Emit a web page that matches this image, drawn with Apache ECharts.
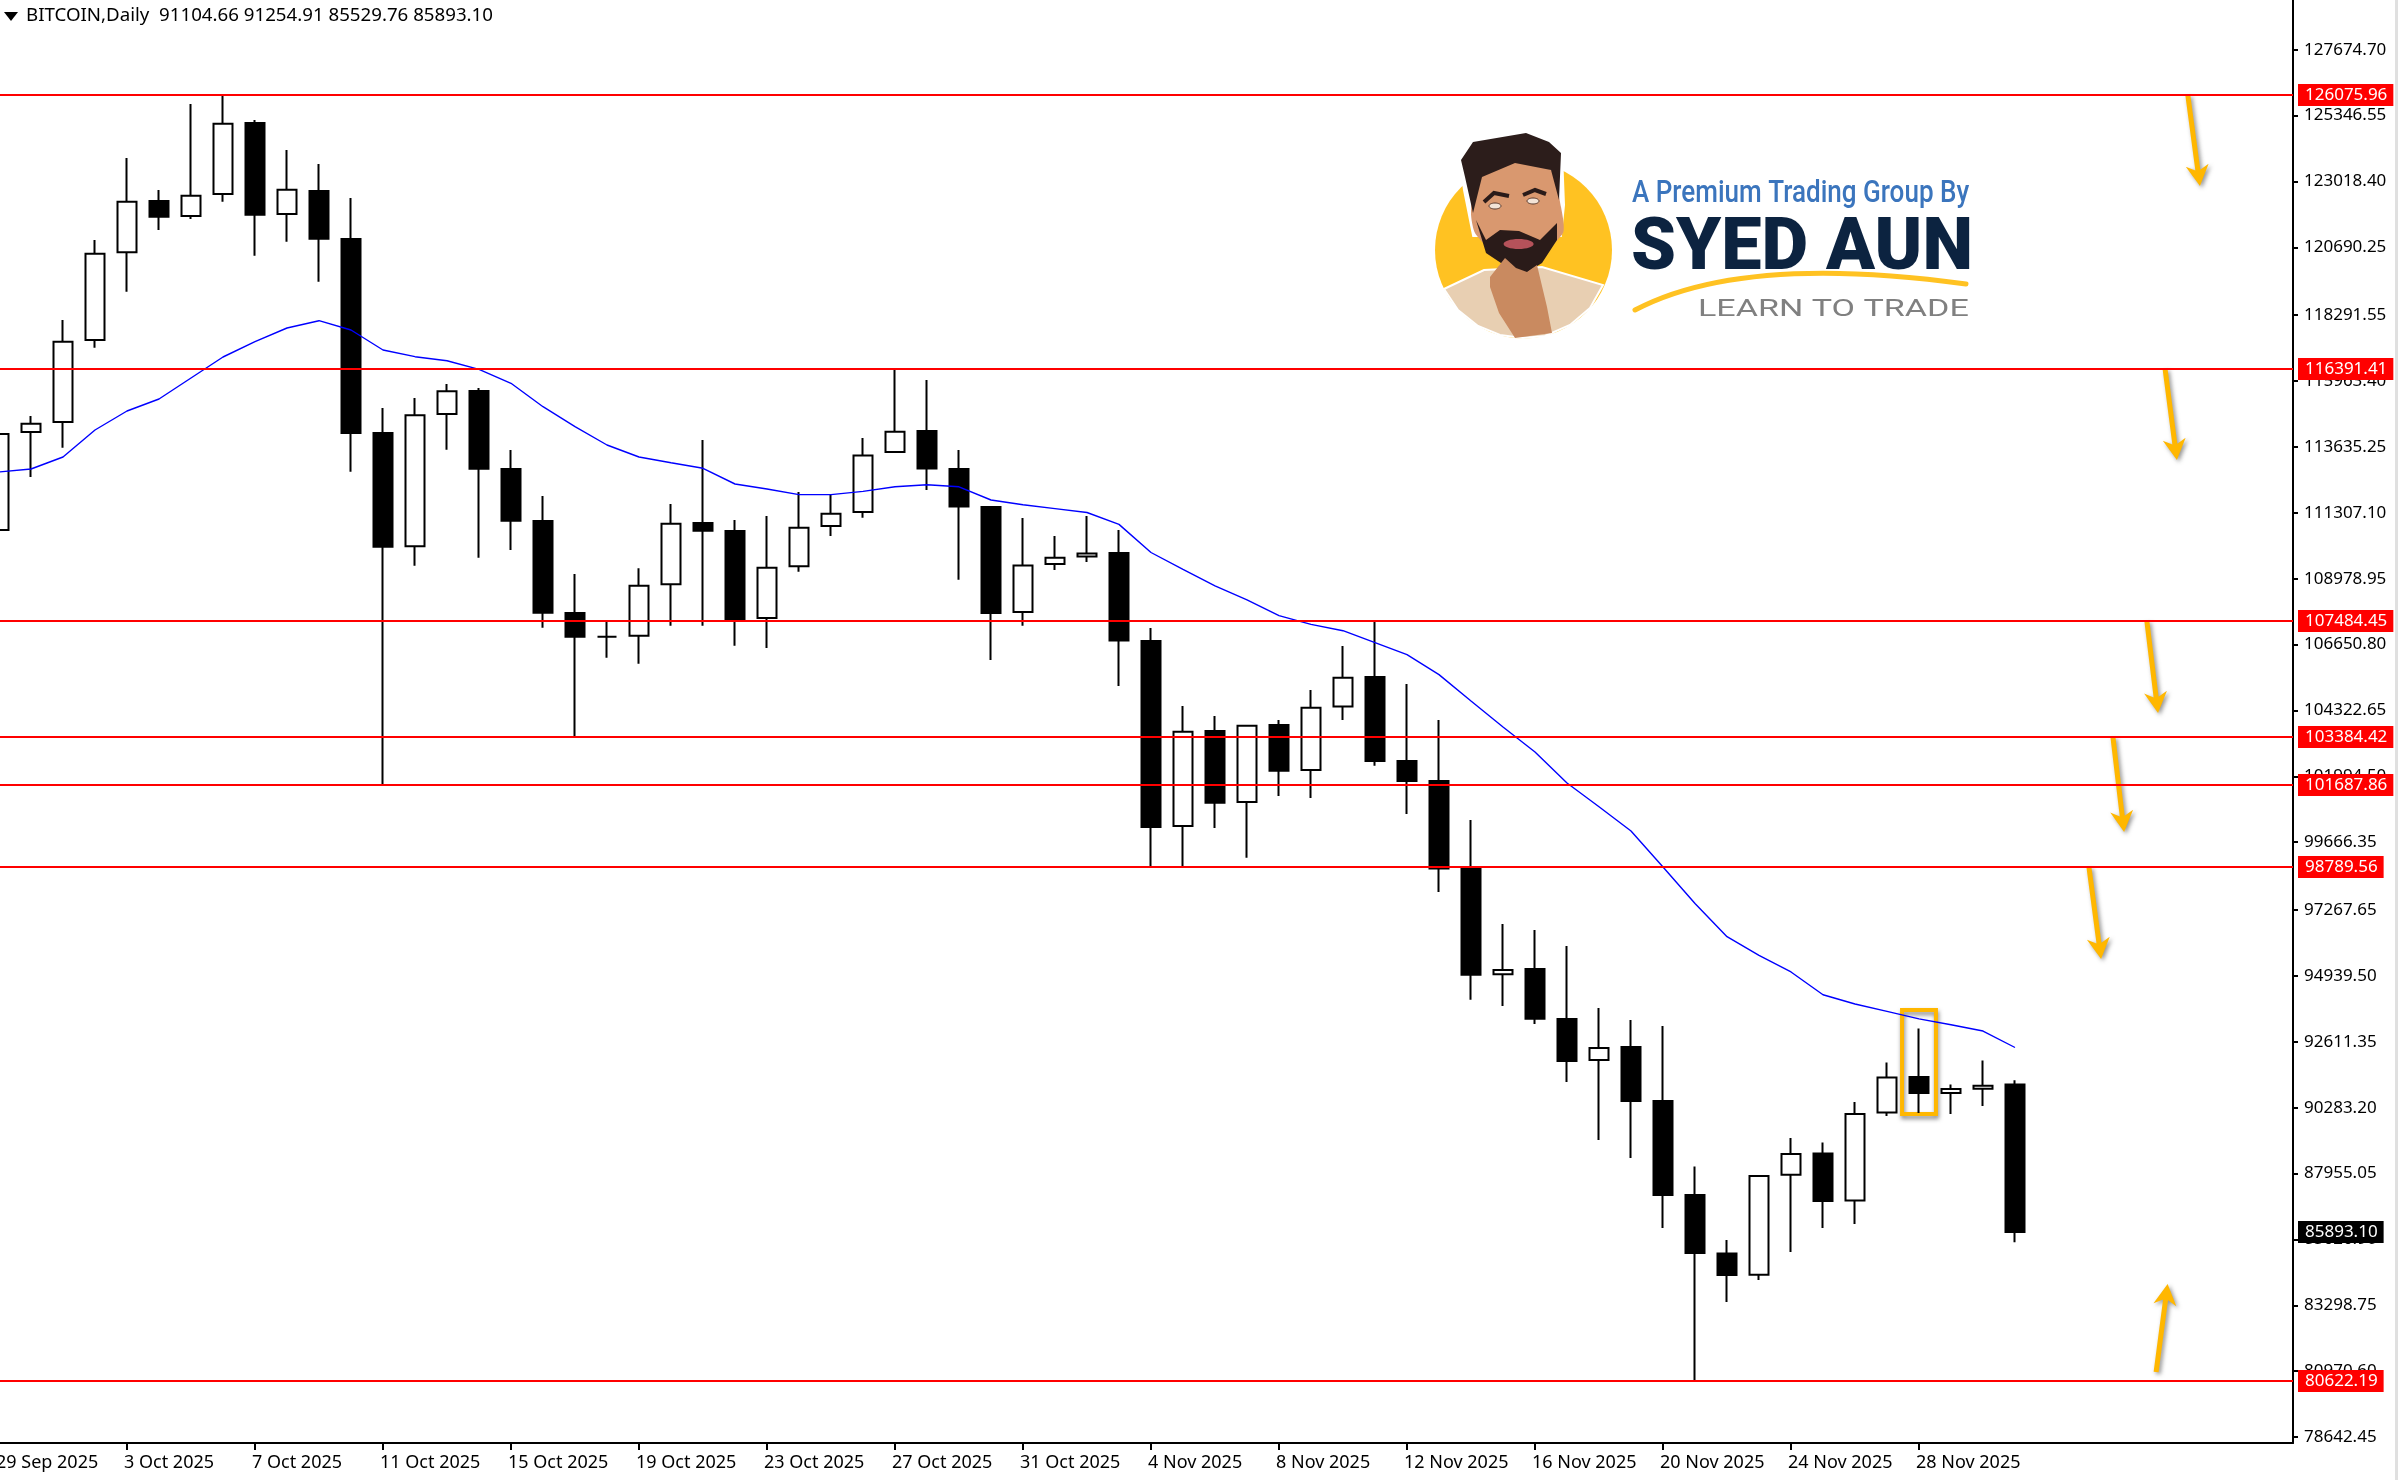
<!DOCTYPE html>
<html>
<head>
<meta charset="utf-8">
<title>BITCOIN,Daily</title>
<style>
html, body { margin: 0; padding: 0; background: #fff; }
#chart { width: 2398px; height: 1480px; }
</style>
<script src="https://cdn.jsdelivr.net/npm/echarts@6/dist/echarts.min.js"></script>
</head>
<body>
<div id="chart"></div>
<script>
// candles, one per day from 29 Sep 2025
var opens = [110701,114165,114518,117417,120516,122330,121800,122577,125087,121870,
    122683,120986,114130,110125,114801,115614,112857,111019,107767,106930,
    106965,108782,110949,110666,107591,109422,110843,111337,113458,114200,
    112857,111514,107803,109499,109768,109888,106778,100239,103597,101087,
    103809,102218,104463,105505,102536,101830,98726,94997,95185,93417,
    91968,92428,90519,87197,85129,84380,87914,88663,87002,90113,
    91367,90800,90950,91104.66];
var closes = [114094,114458,117357,120467,122305,121775,122517,125062,121845,122729,
    120997,114130,110111,114755,115603,112868,111030,107778,106930,106930,
    108733,110924,110677,107555,109369,110779,111274,113331,114176,112871,
    111532,107771,109450,109722,109871,106792,100204,103572,101062,103784,
    102190,104417,105481,102536,101830,98733,94983,95149,93428,91933,
    92392,90523,87197,85147,84369,87868,88646,86985,90060,91346,
    90802,90940,91060,85893.10];
var lows = [110348,112574,113610,117145,119124,121305,121693,122305,120396,120891,
    119477,112762,101688,109439,113539,109722,109994,107248,103384,106188,
    105976,107319,107319,106612,106530,109224,110489,111136,113423,112115,
    108941,106106,107315,109287,109570,105187,98789.56,98789.56,100168,99118,
    101299,101229,103986,102367,100667,97906,94096,93877,93244,91191,
    89141,88508,86030,80622.19,83415,84192,85182,86030,86172,89989,
    90095,90060,90342,85529.76];
var highs = [114412,114730,118124,120951,123849,122718,125758,126075.96,125193,124132,
    123637,122436,115013,115367,115862,115720,113529,111903,109146,107460,
    109347,111620,113882,111055,111196,112044,111938,113953,116391.41,116003,
    113529,111549,111125,110489,111196,110701,107237,104480,104127,103808,
    103986,105046,106601,107484.45,105258,103986,100451,96775,96563,95998,
    93806,93382,93170,88201,85606,87904,89211,89052,90484,91884,
    93085,91105,91954,91254.91];
// blue moving average, one value per candle
var maLine = [112751,112857,113281,114236,114907,115331,116074,116816,117357,117841,
    118099,117770,117063,116827,116685,116381,115886,115059,114352,113705,
    113281,113080,112882,112327,112150,111952,111952,112065,112228,112302,
    112228,111761,111595,111458,111320,110899,109906,109312,108729,108234,
    107675,107365,107142,106721,106297,105590,104657,103738,102855,101759,
    100918,100062,98790,97500,96326,95665,95079,94273,93948,93686,
    93421,93216,92993,92410];

var priceTicks = [127674.70,125346.55,123018.40,120690.25,118291.55,115963.40,113635.25,111307.10,
    108978.95,106650.80,104322.65,101994.50,99666.35,97267.65,94939.50,92611.35,
    90283.20,87955.05,85626.90,83298.75,80970.60,78642.45];
var levels = [126075.96,116391.41,107484.45,103384.42,101687.86,98789.56,80622.19];
var lastPrice = 85893.10;
var dateTicks = [0,4,8,12,16,20,24,28,32,36,40,44,48,52,56,60];
var dateLabels = ['29 Sep 2025','3 Oct 2025','7 Oct 2025','11 Oct 2025','15 Oct 2025','19 Oct 2025',
    '23 Oct 2025','27 Oct 2025','31 Oct 2025','4 Nov 2025','8 Nov 2025','12 Nov 2025',
    '16 Nov 2025','20 Nov 2025','24 Nov 2025','28 Nov 2025'];
// yellow arrows: tail candle, tail price, tip candle, tip price
var arrows = [[68.40,126076,68.78,122860],[67.69,116391,68.06,113175],[67.12,107484,67.47,104233],
    [66.06,103384,66.41,100027],[65.31,98790,65.69,95538],[67.41,80941,67.77,84051]];
var boxFrom = [59.47,93736];
var boxTo = [60.53,90060];

var FONT = 'Noto Sans';
var ORANGE = '#FFB700';

var candles = [];
var maPoints = [];
for (var i = 0; i < opens.length; i++) {
    candles.push([i, opens[i], closes[i], lows[i], highs[i]]);
    maPoints.push([i, maLine[i]]);
}

function levelLine(v, bg) {
    return {
        yAxis: v,
        lineStyle: { color: bg === '#000' ? 'transparent' : '#ff0000', width: 2, type: 'solid' },
        label: {
            show: true, position: 'end', distance: 5, color: '#fff', backgroundColor: bg,
            fontFamily: FONT, fontSize: 17, lineHeight: 16, padding: [3, 6, 3, 7],
            formatter: function (p) { return p.value.toFixed(2); }
        }
    };
}
var levelData = levels.map(function (v) { return levelLine(v, '#ff0000'); });
levelData.push(levelLine(lastPrice, '#000'));

function renderArrow(params, api) {
    var tail = api.coord([api.value(0), api.value(1)]);
    var tip = api.coord([api.value(2), api.value(3)]);
    var dx = tip[0] - tail[0], dy = tip[1] - tail[1];
    var len = Math.sqrt(dx * dx + dy * dy);
    var ux = dx / len, uy = dy / len, nx = -uy, ny = ux;
    function at(along, side) {
        return [tip[0] - ux * along + nx * side, tip[1] - uy * along + ny * side];
    }
    return {
        type: 'polygon',
        shape: { points: [[tail[0] + nx * 2.5, tail[1] + ny * 2.5], at(16, 2.5), at(21, 11.5), tip, at(21, -11.5), at(16, -2.5), [tail[0] - nx * 2.5, tail[1] - ny * 2.5]] },
        style: { fill: ORANGE, shadowBlur: 4, shadowColor: 'rgba(60,60,60,0.55)', shadowOffsetX: 2, shadowOffsetY: 2 }
    };
}

// logo top right, drawn by hand with plain shapes
var logo = [
    { type: 'circle', shape: { cx: 1523.5, cy: 250, r: 88.5 }, style: { fill: '#FFC222' } },
    { type: 'polygon', shape: { points: [[1444,289],[1484,270],[1542,267],[1603,285],[1590,308],[1570,325],[1545,336],[1523,338],[1500,335],[1478,326],[1458,310]] }, style: { fill: '#E8CFB2', stroke: '#fff', lineWidth: 2 } },
    { type: 'polygon', shape: { points: [[1461,160],[1473,142],[1526,133],[1549,142],[1561,153],[1563,205],[1560,235],[1474,235],[1465,190]] }, style: { fill: '#fff', stroke: '#fff', lineWidth: 4 } },
    { type: 'polygon', shape: { points: [[1478,170],[1515,163],[1551,170],[1561,207],[1563,233],[1526,267],[1498,257],[1475,233],[1471,213]], smooth: 0.2 }, style: { fill: '#D9986F' } },
    { type: 'polygon', shape: { points: [[1461,160],[1473,142],[1526,133],[1549,142],[1561,153],[1559,200],[1551,170],[1515,163],[1482,177],[1473,213],[1465,177]] }, style: { fill: '#2C1D1B' } },
    { type: 'polygon', shape: { points: [[1476,220],[1486,240],[1500,230],[1519,231],[1540,240],[1557,223],[1557,240],[1542,263],[1526,273],[1507,267],[1486,253]] }, style: { fill: '#2A1B19' } },
    { type: 'ellipse', shape: { cx: 1518.6, cy: 244, rx: 15, ry: 5 }, style: { fill: '#B5525A' } },
    { type: 'polyline', shape: { points: [[1484,202],[1494,193],[1509,196]] }, style: { stroke: '#2A1B19', lineWidth: 4, fill: 'none' } },
    { type: 'polyline', shape: { points: [[1523,195],[1535,190],[1546,194]] }, style: { stroke: '#2A1B19', lineWidth: 4, fill: 'none' } },
    { type: 'ellipse', shape: { cx: 1495, cy: 206, rx: 6, ry: 3 }, style: { fill: '#F3E3D6', stroke: '#5a3b2e', lineWidth: 1 } },
    { type: 'ellipse', shape: { cx: 1533, cy: 201, rx: 6, ry: 3 }, style: { fill: '#F3E3D6', stroke: '#5a3b2e', lineWidth: 1 } },
    { type: 'polygon', shape: { points: [[1490,277],[1505,258],[1516,268],[1527,272],[1537,265],[1547,307],[1552,333],[1515,338],[1499,313],[1490,287]] }, style: { fill: '#C98A60' } },
    { type: 'text', x: 1632, y: 194, scaleX: 0.84, style: { text: 'A Premium Trading Group By', fill: '#3B75BD', font: '500 31px Roboto', textVerticalAlign: 'middle' } },
    { type: 'text', x: 1631, y: 251, style: { text: 'SYED AUN', fill: '#0C2340', font: '900 72px Roboto', textVerticalAlign: 'middle' } },
    { type: 'bezierCurve', shape: { x1: 1635, y1: 310, x2: 1966, y2: 284, cpx1: 1720, cpy1: 265, cpx2: 1850, cpy2: 268 }, style: { stroke: '#FFC222', lineWidth: 5, lineCap: 'round', fill: 'none' } },
    { type: 'text', x: 1698, y: 310, scaleX: 1.42, style: { text: 'LEARN TO TRADE', fill: '#808080', font: '400 24px Roboto', textVerticalAlign: 'middle' } }
];

var decor = [
    // menu triangle in front of the title
    { type: 'polygon', shape: { points: [[4,12],[18,12],[11,21]] }, style: { fill: '#000' } },
    // right hand window edge
    { type: 'rect', shape: { x: 2395, y: 0, width: 3, height: 1480 }, style: { fill: '#E0E0E0' } },
    // small gap in the axis at the current price
    { type: 'rect', shape: { x: 2292, y: 1230, width: 6, height: 2 }, style: { fill: '#fff' } }
];

var myChart = echarts.init(document.getElementById('chart'));
myChart.setOption({
    animation: false,
    backgroundColor: '#fff',
    title: {
        text: 'BITCOIN,Daily  91104.66 91254.91 85529.76 85893.10',
        left: 21, top: 1,
        textStyle: { color: '#000', fontFamily: FONT, fontSize: 18.7, fontWeight: 'normal' }
    },
    grid: { left: -17, right: 105, top: 0, bottom: 37, outerBoundsMode: 'none' },
    xAxis: {
        type: 'value',
        min: -0.5,
        max: 71.6875,
        splitLine: { show: false },
        axisLine: { show: true, onZero: false, lineStyle: { color: '#000', width: 2 } },
        axisTick: { show: true, customValues: dateTicks, length: 7, inside: false, lineStyle: { color: '#000', width: 2 } },
        axisLabel: {
            show: true, customValues: dateTicks, color: '#000', fontFamily: FONT, fontSize: 18,
            align: 'left', margin: 11, padding: [0, 0, 0, -3], hideOverlap: false, showMinLabel: true, showMaxLabel: true,
            formatter: function (v) { return dateLabels[dateTicks.indexOf(v)]; }
        }
    },
    yAxis: {
        type: 'value',
        position: 'right',
        scale: true,
        min: 78431,
        max: 129434,
        splitLine: { show: false },
        axisLine: { show: true, onZero: false, lineStyle: { color: '#000', width: 2 } },
        axisTick: { show: true, customValues: priceTicks, length: 5, lineStyle: { color: '#000', width: 2 } },
        axisLabel: {
            show: true, customValues: priceTicks, color: '#000', fontFamily: FONT, fontSize: 17, margin: 11,
            padding: [10, 0, 0, 0],
            hideOverlap: false, showMinLabel: true, showMaxLabel: true,
            formatter: function (v) { return v.toFixed(2); }
        }
    },
    series: [
        {
            type: 'candlestick',
            data: candles,
            encode: { x: 0, y: [1, 2, 3, 4] },
            barWidth: 20,
            itemStyle: { color: '#fff', color0: '#000', borderColor: '#000', borderColor0: '#000', borderWidth: 2 },
            z: 2
        },
        {
            type: 'line',
            data: maPoints,
            showSymbol: false,
            lineStyle: { color: '#0000ff', width: 1.4 },
            silent: true,
            z: 3,
            markLine: { silent: true, symbol: 'none', animation: false, data: levelData }
        },
        {
            type: 'custom',
            data: arrows,
            encode: { x: [0, 2], y: [1, 3] },
            renderItem: renderArrow,
            silent: true,
            z: 4,
            markArea: {
                silent: true,
                itemStyle: { color: 'transparent', borderColor: ORANGE, borderWidth: 4, shadowBlur: 4, shadowColor: 'rgba(60,60,60,0.6)', shadowOffsetX: 1, shadowOffsetY: 3 },
                data: [[{ xAxis: boxFrom[0], yAxis: boxFrom[1] }, { xAxis: boxTo[0], yAxis: boxTo[1] }]]
            }
        }
    ],
    graphic: logo.concat(decor)
});
</script>
</body>
</html>
